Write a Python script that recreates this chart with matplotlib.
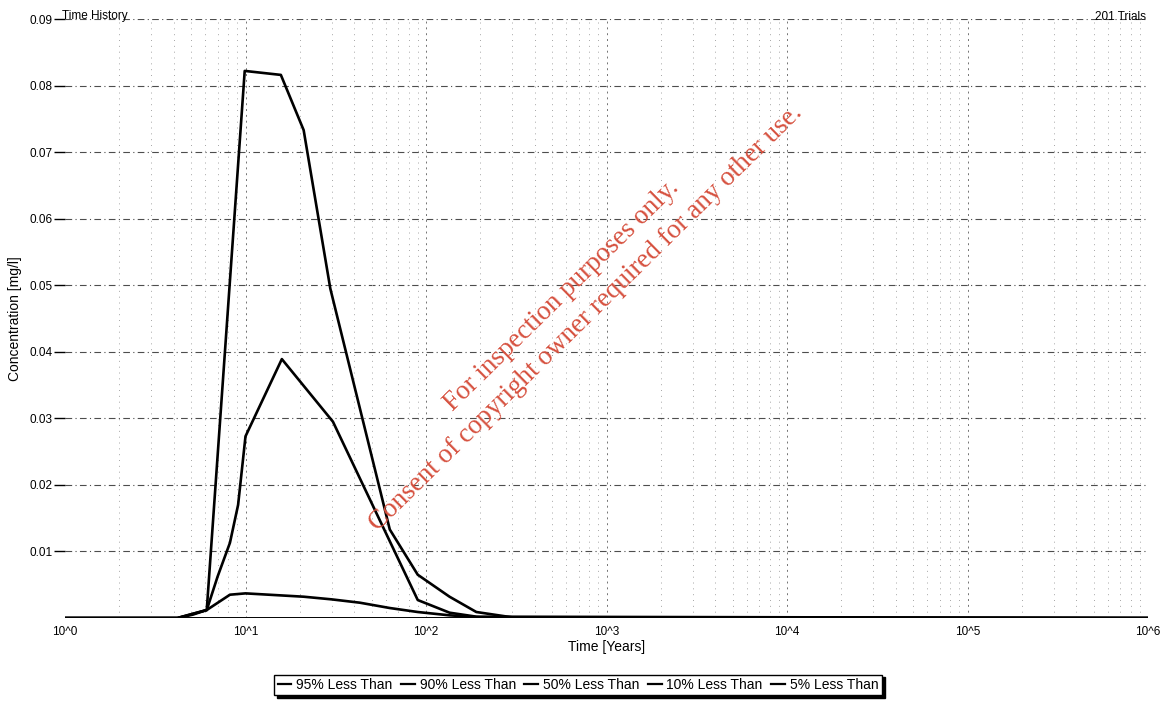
import matplotlib
matplotlib.use("Agg")
import matplotlib.pyplot as plt
from matplotlib.ticker import FixedLocator, FixedFormatter, NullFormatter
import numpy as np

# ---- data ----
t95 = [1, 4.2, 6.1, 9.9, 15.7, 21, 29.5, 63, 90, 135, 190, 300, 1e6]
c95 = [0, 0, 0.0012, 0.0822, 0.0816, 0.0733, 0.0495, 0.0133, 0.0065, 0.0032, 0.0009, 0.0001, 0]

t90 = [1, 4.2, 6.1, 7.0, 8.2, 9.1, 10, 15.9, 30.5, 90, 135, 190, 1e6]
c90 = [0, 0, 0.0012, 0.0062, 0.0113, 0.0170, 0.0273, 0.0389, 0.0295, 0.0027, 0.0008, 0.0002, 0]

t50 = [1, 4.2, 5.1, 6.1, 8.2, 10, 21, 30, 43, 63, 90, 135, 200, 1e6]
c50 = [0, 0, 0.0005, 0.0012, 0.0035, 0.0037, 0.0032, 0.0028, 0.0023, 0.0015, 0.0009, 0.0004, 0.0001, 0]

t10 = [1, 1e6]
c10 = [0, 0]
t05 = [1, 1e6]
c05 = [0, 0]

series_labels = ["95% Less Than", "90% Less Than", "50% Less Than", "10% Less Than", "5% Less Than"]
x_ticks = [1, 10, 100, 1e3, 1e4, 1e5, 1e6]
x_tick_labels = ["10^0", "10^1", "10^2", "10^3", "10^4", "10^5", "10^6"]
y_ticks = [0.01, 0.02, 0.03, 0.04, 0.05, 0.06, 0.07, 0.08, 0.09]
y_tick_labels = ["0.01", "0.02", "0.03", "0.04", "0.05", "0.06", "0.07", "0.08", "0.09"]

plt.rcParams['font.family'] = ['Liberation Sans', 'DejaVu Sans']

fig = plt.figure(figsize=(11.68, 7.01), dpi=100)
ax = fig.add_axes([65/1168, 1-618/701, (1148-65)/1168, (618-19)/701])

ax.set_xscale('log')
ax.set_xlim(1, 1e6)
ax.set_ylim(0, 0.09)

# grid
for yv in y_ticks:
    ax.axhline(yv, color='0.3', lw=0.8, ls=(0, (6, 3, 1, 3)), zorder=1)
minor_x = [m * 10**d for d in range(0, 6) for m in range(2, 10)]
for xv in minor_x:
    ax.axvline(xv, color='0.65', lw=0.7, ls=(0, (1, 5)), zorder=1)
for xv in x_ticks[1:-1]:
    ax.axvline(xv, color='0.45', lw=0.7, ls=(0, (2, 4)), zorder=1)

lw = 1.9
ax.plot(t95, c95, color='black', lw=lw, label=series_labels[0], zorder=3)
ax.plot(t90, c90, color='black', lw=lw, label=series_labels[1], zorder=3)
ax.plot(t50, c50, color='black', lw=lw, label=series_labels[2], zorder=3)
ax.plot(t10, c10, color='black', lw=lw, label=series_labels[3], zorder=3)
ax.plot(t05, c05, color='black', lw=lw, label=series_labels[4], zorder=3)

ax.xaxis.set_major_locator(FixedLocator(x_ticks))
ax.xaxis.set_major_formatter(FixedFormatter(x_tick_labels))
ax.xaxis.set_minor_locator(FixedLocator(minor_x))
ax.xaxis.set_minor_formatter(NullFormatter())
ax.tick_params(axis='x', which='both', length=0, labelsize=8.5, pad=6)
ax.yaxis.set_major_locator(FixedLocator(y_ticks))
ax.yaxis.set_major_formatter(FixedFormatter(y_tick_labels))
ax.tick_params(axis='y', which='major', length=8, width=1, labelsize=8.5, pad=1)
for s in ax.spines.values():
    s.set_visible(False)

ax.set_xlabel("Time [Years]", fontsize=10, labelpad=1)
ax.set_ylabel("Concentration [mg/l]", fontsize=10, labelpad=5)

fig.text(62/1168, 1-16/701, "Time History", fontsize=8.5, ha='left', va='center')
fig.text(1146/1168, 1-17/701, "201 Trials", fontsize=8.5, ha='right', va='center')

leg = fig.legend(loc='center', bbox_to_anchor=(578/1168, 1-685/701), ncol=5,
                 fontsize=10, handlelength=1.0, handletextpad=0.35, columnspacing=0.6,
                 frameon=True, fancybox=False, edgecolor='black', borderpad=0.25,
                 shadow={'color': 'black', 'alpha': 1})
leg.get_frame().set_linewidth(1.0)
for h in leg.get_lines():
    h.set_linewidth(1.6)

wm_color = '#d6503e'
fig.text(562/1168, 1-296/701, "For inspection purposes only.", fontsize=19.5,
         family=['Liberation Serif', 'DejaVu Serif'], color=wm_color, rotation=44.5,
         rotation_mode='anchor', ha='center', va='center')
fig.text(586/1168, 1-318/701, "Consent of copyright owner required for any other use.", fontsize=19.5,
         family=['Liberation Serif', 'DejaVu Serif'], color=wm_color, rotation=44.5,
         rotation_mode='anchor', ha='center', va='center')

fig.savefig("out.png", dpi=100)
